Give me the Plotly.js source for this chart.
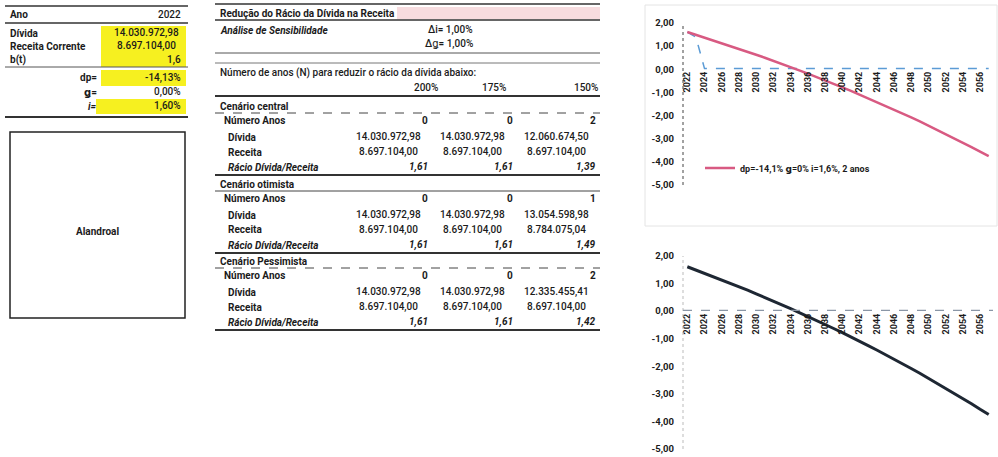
<!DOCTYPE html>
<html><head><meta charset="utf-8">
<script src="https://cdn.plot.ly/plotly-3.0.1.min.js"></script>
<style>html,body{margin:0;padding:0;background:#fff}#c{width:998px;height:457px}</style>
</head><body><div id="c"></div>
<script>
// ---- data ----
const years = [2022,2023,2024,2025,2026,2027,2028,2029,2030,2031,2032,2033,2034,2035,2036,2037,2038,2039,2040,2041,2042,2043,2044,2045,2046,2047,2048,2049,2050,2051,2052,2053,2054,2055,2056,2057];
const ratioPath = [1.61,1.49,1.38,1.26,1.14,1.01,0.89,0.76,0.63,0.50,0.37,0.23,0.09,-0.05,-0.19,-0.33,-0.48,-0.63,-0.78,-0.93,-1.09,-1.25,-1.41,-1.57,-1.74,-1.91,-2.08,-2.25,-2.43,-2.61,-2.79,-2.98,-3.17,-3.36,-3.56,-3.75];
const targetPath = [1.61,1.39,0.03,0.03,0.03,0.03,0.03,0.03,0.03,0.03,0.03,0.03,0.03,0.03,0.03,0.03,0.03,0.03,0.03,0.03,0.03,0.03,0.03,0.03,0.03,0.03,0.03,0.03,0.03,0.03,0.03,0.03,0.03,0.03,0.03,0.03];
const yTickVals = [2,1,0,-1,-2,-3,-4,-5];
const yTickText = ["2,00","1,00","0,00","-1,00","-2,00","-3,00","-4,00","-5,00"];
const legendLabel = "dp=-14,1% ǥ=0% i=1,6%, 2 anos";

// left summary table
const summaryLabels = ["Ano","Dívida","Receita Corrente","b(t)"];
const summaryValues = ["2022","14.030.972,98","8.697.104,00","1,6"];
const paramLabels = ["dp=","ǥ=","i="];
const paramValues = ["-14,13%","0,00%","1,60%"];
const municipality = "Alandroal";

// sensitivity table
const thresholds = ["200%","175%","150%"];
const scenarioNames = ["Cenário central","Cenário otimista","Cenário Pessimista"];
const rowLabels = ["Número Anos","Dívida","Receita","Rácio Dívida/Receita"];
const scenNumYears = [["0","0","2"],["0","0","1"],["0","0","2"]];
const scenDebt = [["14.030.972,98","14.030.972,98","12.060.674,50"],["14.030.972,98","14.030.972,98","13.054.598,98"],["14.030.972,98","14.030.972,98","12.335.455,41"]];
const scenRevenue = [["8.697.104,00","8.697.104,00","8.697.104,00"],["8.697.104,00","8.697.104,00","8.784.075,04"],["8.697.104,00","8.697.104,00","8.697.104,00"]];
const scenRatio = [["1,61","1,61","1,39"],["1,61","1,61","1,49"],["1,61","1,61","1,42"]];

// ---- layout helpers ----
const W=998,H=457;
const X=p=>p/W, Y=p=>1-p/H;
const FONT="Roboto, 'DejaVu Sans', sans-serif";
const TXT="#1b1b1b";
const ann=[], shp=[];
function t(x,y,s,anchor,o){o=o||{};ann.push({xref:'paper',yref:'paper',x:X(x),y:Y(y),text:s,showarrow:false,xanchor:anchor||'left',yanchor:'middle',font:{family:FONT,size:o.size||10,color:o.color||TXT,weight:o.bold?700:(o.semi?500:400),style:o.italic?'italic':'normal'}});}
function hl(x0,x1,y,w,c,dash){shp.push({type:'line',xref:'paper',yref:'paper',x0:X(x0),x1:X(x1),y0:Y(y),y1:Y(y),line:{color:c||'#333',width:w||1,dash:dash||'solid'}});}
function rect(x0,y0,x1,y1,fill,lc,lw){shp.push({type:'rect',xref:'paper',yref:'paper',x0:X(x0),x1:X(x1),y0:Y(y1),y1:Y(y0),fillcolor:fill||'rgba(0,0,0,0)',line:{color:lc||'rgba(0,0,0,0)',width:lw||0},layer:'below'});}

// left table
rect(101,26,186,67,'#f6f020');
rect(101,70,186,86,'#f6f020');
rect(96,99,186,114,'#f6f020');
hl(5,188,6,1.5,'#333');
hl(5,188,23,1.5,'#333');
hl(5,188,67,1,'#555');
hl(5,188,117,2,'#333');
const sumY=[15,33,46,60];
summaryLabels.forEach((s,i)=>t(8,sumY[i],s,'left',{bold:true}));
t(183,sumY[0],summaryValues[0],'right',{semi:true});
t(146,sumY[1],summaryValues[1],'center',{semi:true});
t(146,sumY[2],summaryValues[2],'center',{semi:true});
t(183,sumY[3],summaryValues[3],'right',{semi:true});
const parY=[78,92,106];
paramLabels.forEach((s,i)=>t(99,parY[i],s,'right',{bold:true,italic:i===2}));
paramValues.forEach((s,i)=>t(183,parY[i],s,'right',{semi:true}));
rect(10,132,185,318,null,'#222',1.5);
t(97,231,municipality,'center',{bold:true});

// sensitivity table
rect(397,7,600,19,'#f7dcdf');
hl(215,600,4,1.5,'#333');
hl(215,600,20,1.5,'#333');
hl(215,600,53,1,'#555');
hl(215,600,63,1,'#777');
hl(215,600,96,2,'#333');
t(218,13,"Redução do Rácio da Dívida na Receita",'left',{bold:true});
t(218,30,"Análise de Sensibilidade",'left',{bold:true,italic:true});
t(475,30,"Δi= 1,00%",'right',{semi:true});
t(475,44,"Δǥ= 1,00%",'right',{semi:true});
t(218,73,"Número de anos (N) para reduzir o rácio da dívida abaixo:",'left',{semi:true});
t(440,88,thresholds[0],'right',{semi:true});
t(508,88,thresholds[1],'right',{semi:true});
t(600,88,thresholds[2],'right',{semi:true});
const secTop=[106,184,261];
const intRight=[430,515,598], moneyCenter=[388,472,556];
secTop.forEach((y0,k)=>{
  t(218,y0,scenarioNames[k],'left',{bold:true});
  hl(215,600,y0+7,1,'#444',k===1?'solid':'dash');
  const ry=[y0+14,y0+31,y0+46,y0+61];
  t(222,ry[0],rowLabels[0],'left',{bold:true});
  t(226,ry[1],rowLabels[1],'left',{bold:true});
  t(226,ry[2],rowLabels[2],'left',{bold:true});
  t(226,ry[3],rowLabels[3],'left',{bold:true,italic:true});
  for(let c=0;c<3;c++){
    t(intRight[c],ry[0],scenNumYears[k][c],'right',{bold:true});
    t(moneyCenter[c],ry[1],scenDebt[k][c],'center',{semi:true});
    t(moneyCenter[c],ry[2],scenRevenue[k][c],'center',{semi:true});
    t(intRight[c],ry[3],scenRatio[k][c],'right',{bold:true,italic:true});
  }
  hl(215,600,y0+69,2,'#333');
});

// chart frames
rect(645,5,997,226,null,'#e4e4e4',1);
// dotted y-axis lines
shp.push({type:'line',xref:'x domain',yref:'y domain',x0:0,x1:0,y0:0,y1:1,line:{color:'#444',width:1,dash:'dot'}});
shp.push({type:'line',xref:'x2 domain',yref:'y2 domain',x0:0,x1:0,y0:0,y1:1,line:{color:'#bbb',width:1,dash:'dot'}});
shp.push({type:'line',xref:'x2 domain',yref:'y2',x0:0,x1:1,y0:0.03,y1:0.03,line:{color:'#8a96a6',width:1.2,dash:'dash'}});

const xd=[683/W,993/W];
const top0=Y(185),top1=Y(23), bot0=Y(449), bot1=Y(256);
const evenYears=years.filter(y=>y%2===0&&y<=2056);
const xcommon={type:'linear',range:[2021.5,2057.5],tickmode:'array',tickvals:evenYears,ticktext:evenYears.map(String),tickangle:-90,showgrid:false,zeroline:false,showline:false,ticks:'',tickfont:{family:FONT,size:9,color:TXT,weight:700},anchor:'free',fixedrange:true};
const ycommon={range:[-5,2],tickmode:'array',tickvals:yTickVals,ticktext:yTickText,showgrid:false,zeroline:false,showline:false,ticks:'',tickfont:{family:FONT,size:9.5,color:TXT,weight:700},ticklabelstandoff:8};

const traces=[
 {x:years,y:targetPath,type:'scatter',mode:'lines',line:{color:'#5b9bd5',width:1.5,dash:'dash'},showlegend:false,xaxis:'x',yaxis:'y',hoverinfo:'skip'},
 {x:years,y:ratioPath,type:'scatter',mode:'lines',name:legendLabel,line:{color:'#d85a82',width:2.5},xaxis:'x',yaxis:'y'},
 {x:years,y:ratioPath,type:'scatter',mode:'lines',line:{color:'#1e2733',width:3},showlegend:false,xaxis:'x2',yaxis:'y2'}
];
const layout={
 width:W,height:H,margin:{l:0,r:0,t:0,b:0},paper_bgcolor:'#fff',plot_bgcolor:'rgba(0,0,0,0)',
 xaxis:Object.assign({},xcommon,{domain:xd,position:Y(69)}),
 yaxis:Object.assign({},ycommon,{domain:[top0,top1],anchor:'x'}),
 xaxis2:Object.assign({},xcommon,{domain:xd,position:Y(311)}),
 yaxis2:Object.assign({},ycommon,{domain:[bot0,bot1],anchor:'x2'}),
 showlegend:true,
 legend:{x:X(700),y:Y(168),xanchor:'left',yanchor:'middle',bgcolor:'rgba(0,0,0,0)',font:{family:FONT,size:9,color:TXT,weight:700},itemwidth:30},
 annotations:ann,shapes:shp
};
Plotly.newPlot('c',traces,layout,{displayModeBar:false,staticPlot:true});
</script></body></html>
